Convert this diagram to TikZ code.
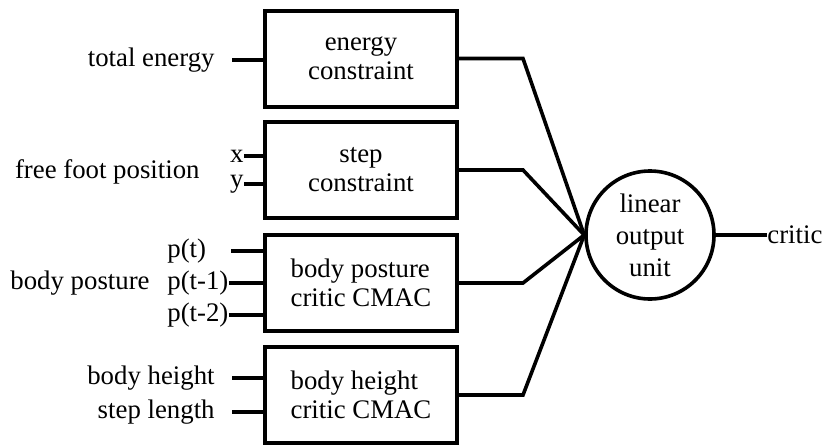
\documentclass[tikz,border=0pt]{standalone}
\usepackage{fontspec}
\setmainfont{Liberation Serif}
\begin{document}
\begin{tikzpicture}[x=0.5pt,y=-0.5pt,
  wire/.style={line width=1.8pt},
  block/.style={draw, line width=2pt, minimum width=96pt, minimum height=48pt,
    align=center, font=\fontsize{13.4}{14.5}\selectfont},
  unit/.style={draw, circle, line width=1.8pt, minimum size=64pt, inner sep=0pt,
    align=center, font=\fontsize{13.4}{16}\selectfont},
  lbl/.style={inner sep=0pt, font=\fontsize{13.4}{14.5}\selectfont}]
\useasboundingbox (0,0) rectangle (825,445);

% blocks
\node[block] (eng) at (361,58.5) {energy\\constraint};
\node[block] (stp) at (361,170) {step\\constraint};
\node[block, align=left] (post) at (361,283) {body posture\\critic CMAC};
\node[block, align=left] (hgt) at (361,395) {body height\\critic CMAC};
\node[unit] (lou) at (650,235) {linear\\output\\unit};

% inputs
\node[lbl, anchor=east] (te) at (215,60) {total energy};
\draw[wire] ([xshift=8.5pt]te.east) -- (te.east -| eng.west);

\node[lbl, anchor=east] (ffp) at (200,172) {free foot position};
\node[lbl, anchor=east] (fx) at (244,156) {x};
\node[lbl, anchor=east] (fy) at (244,184) {y};
\draw[wire] (fx.east) -- (fx.east -| stp.west);
\draw[wire] (fy.east) -- (fy.east -| stp.west);

\node[lbl, anchor=east] (bp) at (150,283) {body posture};
\node[lbl, anchor=west] (p0) at (167,251) {p(t)};
\node[lbl, anchor=west] (p1) at (167,283) {p(t-1)};
\node[lbl, anchor=west] (p2) at (167,315) {p(t-2)};
\draw[wire] ([xshift=12.5pt]p0.east) -- (p0.east -| post.west);
\draw[wire] (p1.east) -- (p1.east -| post.west);
\draw[wire] (p2.east) -- (p2.east -| post.west);

\node[lbl, anchor=east] (bh) at (215,378) {body height};
\node[lbl, anchor=east] (sl) at (215,412) {step length};
\draw[wire] ([xshift=8.5pt]bh.east) -- (bh.east -| hgt.west);
\draw[wire] ([xshift=8.5pt]sl.east) -- (sl.east -| hgt.west);

% outputs
\foreach \b in {eng,stp,post,hgt}
  \draw[wire] (\b.east) -- ([xshift=32pt]\b.east) -- (lou.west);

\node[lbl, anchor=west] (cr) at (767,235) {critic};
\draw[wire] (lou.east) -- (cr.west);
\end{tikzpicture}
\end{document}
